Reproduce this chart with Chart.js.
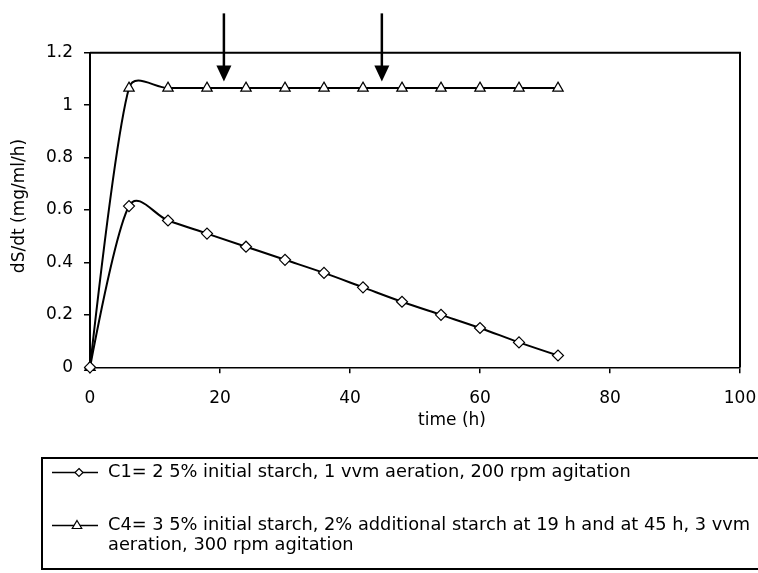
<!DOCTYPE html>
<html><head><meta charset="utf-8">
<style>html,body{margin:0;padding:0;background:#fff;}canvas{display:block;}</style>
<script src="https://cdn.jsdelivr.net/npm/chart.js@4.4.0/dist/chart.umd.min.js"></script>
</head><body>
<canvas id="c" width="758" height="573"></canvas>
<script>
// ---- data ----
const times = [0, 6, 12, 18, 24, 30, 36, 42, 48, 54, 60, 66, 72];
const c1Values = [0, 0.615, 0.56, 0.51, 0.46, 0.41, 0.36, 0.305, 0.25, 0.20, 0.15, 0.095, 0.045];
const c4Values = [0, 1.065, 1.065, 1.065, 1.065, 1.065, 1.065, 1.065, 1.065, 1.065, 1.065, 1.065, 1.065];
const xTicks = [0, 20, 40, 60, 80, 100];
const xTickLabels = ['0', '20', '40', '60', '80', '100'];
const yTicks = [0, 0.2, 0.4, 0.6, 0.8, 1, 1.2];
const yTickLabels = ['0', '0.2', '0.4', '0.6', '0.8', '1', '1.2'];
const c1Label = ['C1= 2 5% initial starch, 1 vvm aeration, 200 rpm agitation'];
const c4Label = ['C4= 3 5% initial starch, 2% additional starch at 19 h and at 45 h, 3 vvm', 'aeration, 300 rpm agitation'];
const arrowTimes = [20.6, 44.9];
const arrowTopValue = 1.35;
const arrowTipValue = 1.09;
const xTitle = 'time (h)';
const yTitle = 'dS/dt (mg/ml/h)';

const FONT = 'DejaVu Sans';

// Excel-like smoothing of the library's computed point positions (control points only)
const excelSmooth = {
  id: 'excelSmooth',
  beforeDatasetDraw(chart, args) {
    const meta = args.meta, line = meta.dataset, pts = meta.data;
    if (!line || !pts || pts.length < 3) return;
    const n = pts.length, CLAMP = 0.45;
    const d = (a, b) => Math.hypot(b.x - a.x, b.y - a.y);
    for (let i = 1; i < n - 1; i++) {
      const tx = (pts[i + 1].x - pts[i - 1].x) / 6, ty = (pts[i + 1].y - pts[i - 1].y) / 6;
      const tl = Math.hypot(tx, ty) || 1;
      const fin = Math.min(1, CLAMP * d(pts[i - 1], pts[i]) / tl);
      const fout = Math.min(1, CLAMP * d(pts[i], pts[i + 1]) / tl);
      pts[i].cp1x = pts[i].x - tx * fin; pts[i].cp1y = pts[i].y - ty * fin;
      pts[i].cp2x = pts[i].x + tx * fout; pts[i].cp2y = pts[i].y + ty * fout;
    }
    const f = pts[0], l = pts[n - 1];
    f.cp1x = f.x; f.cp1y = f.y;
    f.cp2x = f.x + (pts[1].cp1x - f.x) * 0.25; f.cp2y = f.y + (pts[1].cp1y - f.y) * 0.25;
    l.cp2x = l.x; l.cp2y = l.y;
    l.cp1x = l.x + (pts[n - 2].cp2x - l.x) * 0.25; l.cp1y = l.y + (pts[n - 2].cp2y - l.y) * 0.25;
    line._pointsUpdated = true;
    line._path = undefined;
  }
};

function drawMarker(ctx, style, x, y, r) {
  ctx.beginPath();
  if (style === 'rectRot') {
    ctx.moveTo(x, y - r); ctx.lineTo(x + r, y); ctx.lineTo(x, y + r); ctx.lineTo(x - r, y);
  } else {
    ctx.moveTo(x, y - r); ctx.lineTo(x + r * 0.95, y + r * 0.6); ctx.lineTo(x - r * 0.95, y + r * 0.6);
  }
  ctx.closePath();
  ctx.fillStyle = '#fff'; ctx.fill();
  ctx.lineWidth = 1.2; ctx.strokeStyle = '#000'; ctx.stroke();
}

const decor = {
  id: 'decor',
  afterDraw(chart) {
    const ctx = chart.ctx, a = chart.chartArea;
    const xs = chart.scales.x, ys = chart.scales.y;
    ctx.save();
    ctx.strokeStyle = '#000'; ctx.fillStyle = '#000';
    // plot area frame (top and right)
    ctx.lineWidth = 2;
    ctx.beginPath();
    ctx.moveTo(a.left, a.top); ctx.lineTo(a.right, a.top); ctx.lineTo(a.right, a.bottom);
    ctx.stroke();
    // arrows
    arrowTimes.forEach(t => {
      const x = xs.getPixelForValue(t);
      const yTop = ys.getPixelForValue(arrowTopValue);
      const yTip = ys.getPixelForValue(arrowTipValue);
      const headLen = 16, headHalf = 7.5;
      ctx.lineWidth = 2.5;
      ctx.beginPath(); ctx.moveTo(x, yTop); ctx.lineTo(x, yTip - headLen + 1); ctx.stroke();
      ctx.beginPath();
      ctx.moveTo(x - headHalf, yTip - headLen); ctx.lineTo(x + headHalf, yTip - headLen); ctx.lineTo(x, yTip);
      ctx.closePath(); ctx.fill();
    });
    // axis titles
    ctx.font = '17px "' + FONT + '"';
    ctx.textBaseline = 'middle'; ctx.textAlign = 'center';
    ctx.fillText(xTitle, 452, 421);
    ctx.save();
    ctx.translate(20, 206); ctx.rotate(-Math.PI / 2);
    ctx.fillText(yTitle, 0, 0);
    ctx.restore();
    // legend box
    ctx.lineWidth = 2;
    ctx.strokeRect(42, 458, 740, 111);
    const rows = [
      {lines: c1Label, y: 472.5, style: 'rectRot', mx: 79, r: 4},
      {lines: c4Label, y: 525.5, style: 'triangle', mx: 77, r: 5}
    ];
    rows.forEach(row => {
      ctx.lineWidth = 1.5; ctx.strokeStyle = '#000';
      ctx.beginPath(); ctx.moveTo(52, row.y); ctx.lineTo(98, row.y); ctx.stroke();
      drawMarker(ctx, row.style, row.mx, row.y, row.r);
      ctx.fillStyle = '#000';
      ctx.font = '17.8px "' + FONT + '"';
      ctx.textAlign = 'left'; ctx.textBaseline = 'middle';
      row.lines.forEach((ln, i) => ctx.fillText(ln, 108, row.y - 0.5 + i * 20));
    });
    ctx.restore();
  }
};

const tickFont = {family: FONT, size: 17};
new Chart(document.getElementById('c'), {
  type: 'line',
  data: {
    datasets: [
      {
        label: c1Label.join(' '),
        data: times.map((t, i) => ({x: t, y: c1Values[i]})),
        borderColor: '#000', borderWidth: 2, tension: 0.4,
        pointStyle: 'rectRot', pointRadius: 5.5, pointBackgroundColor: '#fff',
        pointBorderColor: '#000', pointBorderWidth: 1.2, clip: false
      },
      {
        label: c4Label.join(' '),
        data: times.map((t, i) => ({x: t, y: c4Values[i]})),
        borderColor: '#000', borderWidth: 2, tension: 0.4,
        pointStyle: 'triangle', pointRadius: 6, pointBackgroundColor: '#fff',
        pointBorderColor: '#000', pointBorderWidth: 1.2, clip: false
      }
    ]
  },
  options: {
    responsive: false, animation: false, devicePixelRatio: 1,
    layout: {padding: {left: 0, top: 52.7, right: 18, bottom: 145.7}},
    plugins: {legend: {display: false}, tooltip: {enabled: false}},
    scales: {
      x: {
        type: 'linear', min: 0, max: 100,
        afterBuildTicks: s => { s.ticks = xTicks.map(v => ({value: v})); },
        afterFit: s => { s.height = 60; s.paddingRight = 0; s.paddingLeft = 0; },
        grid: {drawOnChartArea: false, drawTicks: true, tickLength: 6, color: '#000', lineWidth: 1.5},
        border: {display: true, color: '#000', width: 1.5},
        ticks: {color: '#000', font: tickFont, padding: 15, maxRotation: 0, callback: (v, i) => xTickLabels[i]}
      },
      y: {
        type: 'linear', min: 0, max: 1.2,
        afterBuildTicks: s => { s.ticks = yTicks.map(v => ({value: v})); },
        afterFit: s => { s.width = 90; },
        grid: {drawOnChartArea: false, drawTicks: true, tickLength: 6, color: '#000', lineWidth: 1.5},
        border: {display: true, color: '#000', width: 2},
        ticks: {color: '#000', font: tickFont, padding: 11, callback: (v, i) => yTickLabels[i]}
      }
    }
  },
  plugins: [excelSmooth, decor]
});
</script>
</body></html>
